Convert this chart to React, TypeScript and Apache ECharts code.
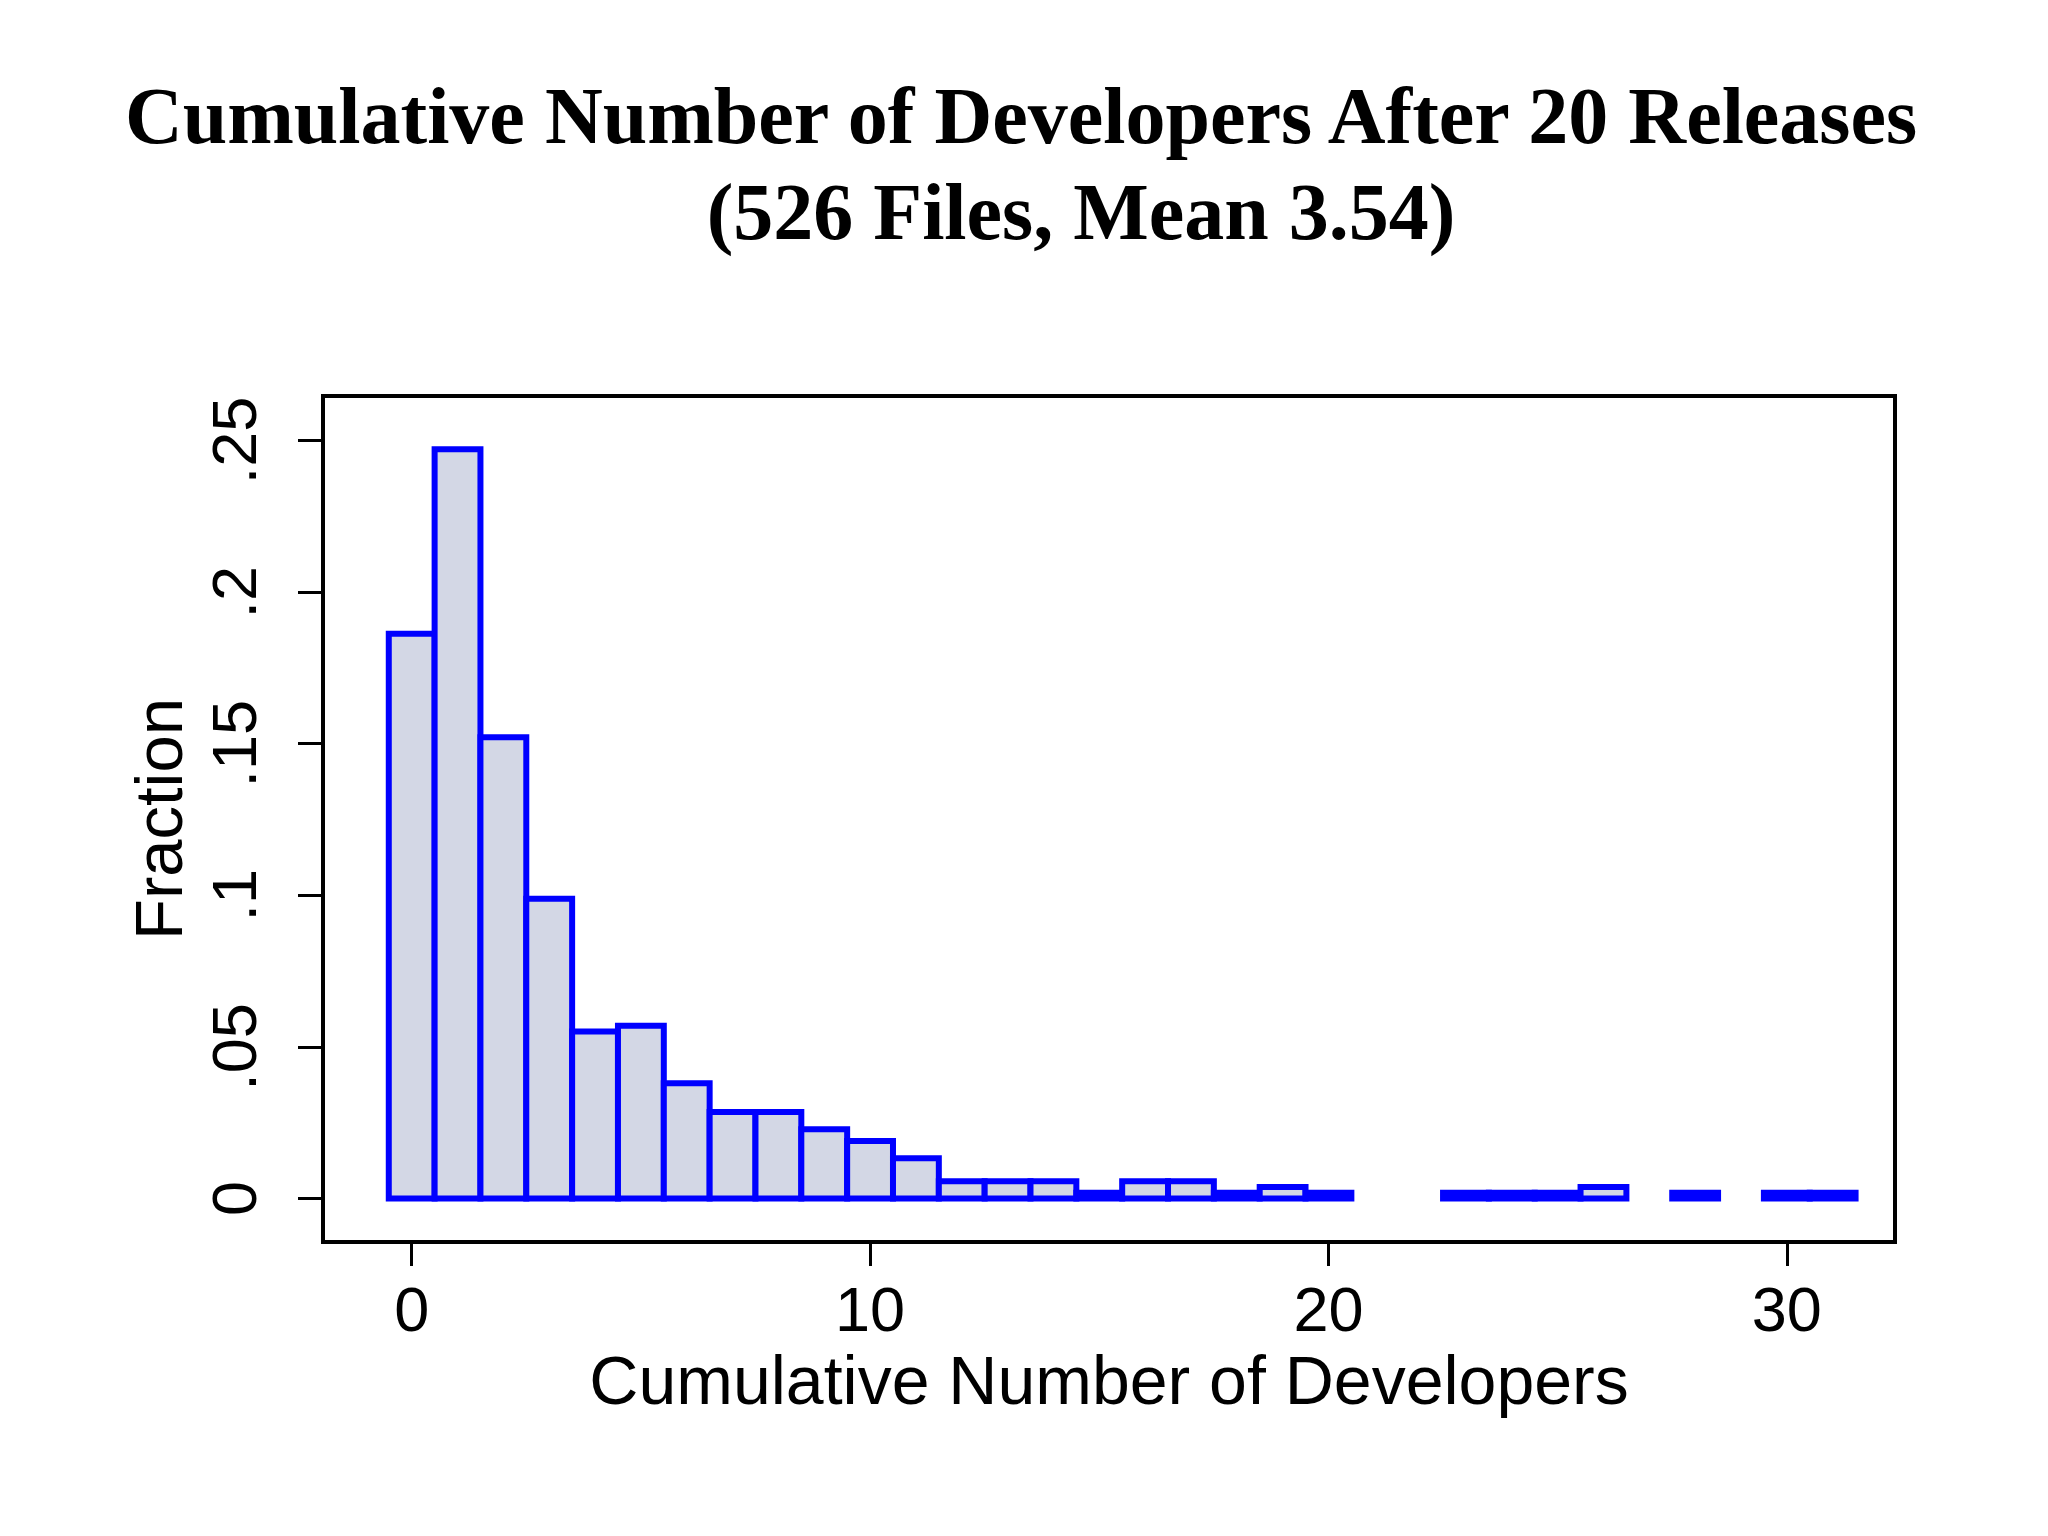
import { useEffect, useRef } from 'react';
import * as echarts from 'echarts';

// histogram: one bar per whole number of developers, height = fraction of the 526 files
const developers = [
  0, 1, 2, 3, 4, 5, 6, 7, 8, 9, 10, 11, 12, 13, 14, 15,
  16, 17, 18, 19, 20, 21, 22, 23, 24, 25, 26, 27, 28, 29, 30, 31,
];
const fractions = [
  0.1863, 0.2471, 0.1521, 0.0989, 0.0551, 0.057, 0.038, 0.0285,
  0.0285, 0.0228, 0.019, 0.0133, 0.0057, 0.0057, 0.0057, 0.0019,
  0.0057, 0.0057, 0.0019, 0.0038, 0.0019, 0, 0, 0.0019,
  0.0019, 0.0019, 0.0038, 0, 0.0019, 0, 0.0019, 0.0019,
];
const xTicks = [0, 10, 20, 30];
const yTicks = [0, 0.05, 0.1, 0.15, 0.2, 0.25];
const yTickLabels = ['0', '.05', '.1', '.15', '.2', '.25'];

const TITLE_1 = 'Cumulative Number of Developers After 20 Releases';
const TITLE_2 = '(526 Files, Mean 3.54)';
const SANS = '"Liberation Sans", Arial, sans-serif';
const titleStyle = {
  fontFamily: '"Liberation Serif", "Times New Roman", serif',
  fontWeight: 'bold',
  fontSize: 80,
  lineHeight: 96,
  color: '#000',
};

export default function App() {
  const ref = useRef<HTMLDivElement>(null);

  useEffect(() => {
    document.body.style.margin = '0';
    const dom = ref.current!;
    const chart = echarts.init(dom, null, { renderer: 'svg' });

    const data = developers
      .map((d, i) => [d, fractions[i]])
      .filter(([, v]) => v > 0);

    chart.setOption({
      animation: false,
      backgroundColor: '#fff',
      // second title line sits a bit right of the first one, like the original
      title: [
        { text: TITLE_1, left: 1016, textAlign: 'center', top: 63, textStyle: titleStyle },
        { text: TITLE_2, left: 1076, textAlign: 'center', top: 159, textStyle: titleStyle },
      ],
      grid: {
        left: 323,
        top: 396,
        width: 1572,
        height: 846,
        show: true,
        borderColor: '#000',
        borderWidth: 4,
        backgroundColor: '#fff',
        containLabel: false,
      },
      xAxis: {
        type: 'value',
        min: -1.935,
        max: 32.36,
        name: 'Cumulative Number of Developers',
        nameLocation: 'middle',
        nameGap: 104,
        nameTextStyle: { fontFamily: SANS, fontSize: 68, color: '#000' },
        axisLine: { show: false, onZero: false },
        axisTick: {
          show: true,
          length: 24,
          customValues: xTicks,
          lineStyle: { color: '#000', width: 3 },
        },
        axisLabel: {
          customValues: xTicks,
          fontFamily: SANS,
          fontSize: 63,
          color: '#000',
          margin: 35,
        },
        splitLine: { show: false },
      },
      yAxis: {
        type: 'value',
        min: -0.01435,
        max: 0.2647,
        name: 'Fraction',
        nameLocation: 'middle',
        nameRotate: 90,
        nameGap: 131,
        nameTextStyle: { fontFamily: SANS, fontSize: 67, color: '#000' },
        axisLine: { show: false, onZero: false },
        axisTick: {
          show: true,
          length: 25,
          customValues: yTicks,
          lineStyle: { color: '#000', width: 3 },
        },
        axisLabel: {
          customValues: yTicks,
          rotate: 90,
          fontFamily: SANS,
          fontSize: 63,
          color: '#000',
          margin: 58,
          formatter: (v: number) => {
            const i = yTicks.findIndex((t) => Math.abs(t - v) < 1e-9);
            return i >= 0 ? yTickLabels[i] : '';
          },
        },
        splitLine: { show: false },
      },
      series: [
        {
          type: 'custom',
          data,
          renderItem: (_params: any, api: any) => {
            const x = api.value(0);
            const v = api.value(1);
            const p0 = api.coord([x - 0.5, v]);
            const p1 = api.coord([x + 0.5, 0]);
            return {
              type: 'rect',
              shape: { x: p0[0], y: p0[1], width: p1[0] - p0[0], height: p1[1] - p0[1] },
              style: { fill: '#d3d7e5', stroke: '#0000ff', lineWidth: 6 },
            };
          },
        },
      ],
    } as echarts.EChartsOption);

    return () => {
      chart.dispose();
    };
  }, []);

  return <div ref={ref} style={{ width: 2048, height: 1536 }} />;
}
